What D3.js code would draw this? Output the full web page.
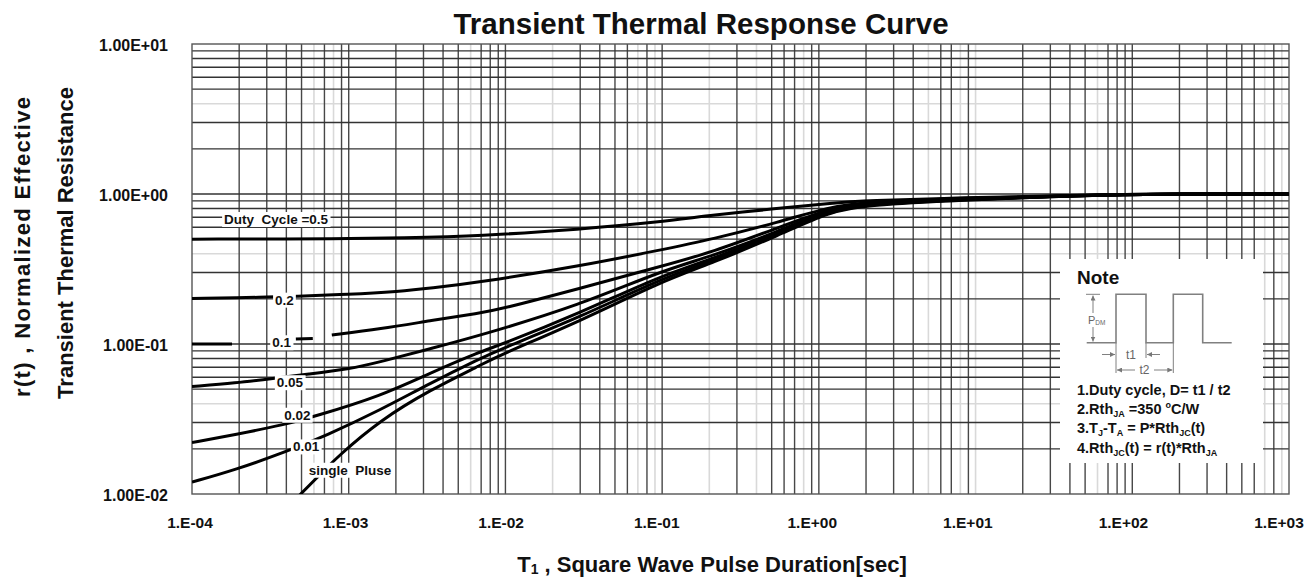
<!DOCTYPE html>
<html><head><meta charset="utf-8">
<script src="https://cdn.jsdelivr.net/npm/d3@7"></script>
<style>
body{margin:0;background:#fff;}
svg{display:block;font-family:"Liberation Sans",Arial,Helvetica,sans-serif;}
</style></head><body>
<svg id="chart" width="1314" height="577"></svg>
<script>
// ---------------- data ----------------
const chartTitle = "Transient Thermal Response Curve";
const xTickValues = [1e-4, 1e-3, 1e-2, 1e-1, 1, 10, 100, 1000];
const xTickLabels = ["1.E-04","1.E-03","1.E-02","1.E-01","1.E+00","1.E+01","1.E+02","1.E+03"];
const yTickValues = [0.01, 0.1, 1, 10];
const yTickLabels = ["1.00E-02","1.00E-01","1.00E+00","1.00E+01"];

// [pulse duration (s), r(t)] ; null marks a break in the printed curve
const duty05 = [[1e-4,0.5],[1e-3,0.503],[2.1e-3,0.51],[6.9e-3,0.525],[0.03,0.582],[0.097,0.65],[0.21,0.724],[0.56,0.803],[1.16,0.867],[2,0.905],[8.8,0.945],[30,0.97],[100,1],[1000,1]];
const duty02 = [[1e-4,0.201],[3e-4,0.205],[4.4e-4,0.208],[1e-3,0.214],[2.1e-3,0.224],[3.3e-3,0.235],[6.9e-3,0.258],[0.03,0.331],[0.097,0.423],[0.21,0.5],[0.56,0.65],[1.16,0.82],[2,0.885],[8.8,0.935],[30,0.968],[100,1],[1000,1]];
const duty01 = [[1e-4,0.1],[1.8e-4,0.1],null,[4.6e-4,0.108],[5.9e-4,0.109],null,[7.8e-4,0.115],[1.6e-3,0.126],[3.3e-3,0.143],[6.9e-3,0.161],[9.2e-3,0.17],[0.03,0.235],[0.097,0.328],[0.21,0.41],[0.56,0.6],[1.16,0.8],[2,0.875],[8.8,0.926],[30,0.965],[100,1],[1000,1]];
const duty005 = [[1e-4,0.052],[1.9e-4,0.055],[3.3e-4,0.059],[5.5e-4,0.063],[1e-3,0.068],[1.6e-3,0.076],[3.3e-3,0.093],[6.9e-3,0.114],[0.03,0.182],[0.097,0.306],[0.21,0.386],[0.56,0.567],[1.16,0.785],[2,0.865],[8.8,0.924],[30,0.965],[100,1],[1000,1]];
const duty002 = [[1e-4,0.022],[1.9e-4,0.0249],[3.9e-4,0.029],[6.1e-4,0.033],[1.6e-3,0.045],[3.3e-3,0.064],[6.9e-3,0.089],[9.2e-3,0.098],[0.03,0.161],[0.097,0.284],[0.21,0.369],[0.56,0.55],[1.16,0.775],[2,0.86],[8.8,0.92],[30,0.965],[100,1],[1000,1]];
const duty001 = [[1e-4,0.012],[1.9e-4,0.0145],[3.9e-4,0.019],[7.1e-4,0.0244],[1.6e-3,0.0364],[3.3e-3,0.0547],[6.9e-3,0.08],[9.2e-3,0.092],[0.03,0.151],[0.097,0.271],[0.21,0.358],[0.56,0.541],[1.16,0.77],[2,0.85],[8.8,0.92],[30,0.96],[100,1],[1000,1]];
const singlePulse = [[4.8e-4,0.0097],[6.2e-4,0.0127],[8.5e-4,0.0178],[1.6e-3,0.0312],[3.3e-3,0.0493],[6.9e-3,0.072],[9.2e-3,0.0844],[0.03,0.142],[0.097,0.259],[0.21,0.347],[0.56,0.533],[1.16,0.762],[2,0.845],[8.8,0.915],[30,0.96],[100,1],[1000,1]];

const curveSeries = [duty05, duty02, duty01, duty005, duty002, duty001, singlePulse];
const curveLabels = ["Duty\u00A0 Cycle =0.5", "0.2", "0.1", "0.05", "0.02", "0.01", "single\u00A0 Pluse"];

// grid lines printed lighter in the original sheet
const lightGridX = [6e-4, 8e-4, 6e-3, 2e-2, 7e-2, 9e-2, 2e-1, 4e-1, 8e-1, 5, 8, 10, 60, 700, 900];
const lightGridY = [0.04, 0.4, 4];

const noteLines = [
  [["1.Duty cycle, D= t1 / t2","n"]],
  [["2.Rth","n"],["JA","sub"],[" =350 ","n"],["o","sup"],["C/W","n"]],
  [["3.T","n"],["J","sub"],["-T","n"],["A","sub"],[" = P*Rth","n"],["JC","sub"],["(t)","n"]],
  [["4.Rth","n"],["JC","sub"],["(t) = r(t)*Rth","n"],["JA","sub"]]
];

// ---------------- layout ----------------
const svg = d3.select("#chart");
const plot = {left:192, top:44, right:1289, bottom:494};
const x = d3.scaleLog().domain([1e-4, 1e3]).range([plot.left, plot.right]);
const y = d3.scaleLog().domain([1e-2, 10]).range([plot.bottom, plot.top]);
const xLabelPos = d3.scaleLog().domain([1e-4, 1e3]).range([190, 1279]);
// label anchors (t, r) for curve labels
const labelAnchors = [[3.44e-4,0.676],[3.89e-4,0.196],[3.73e-4,0.1019],[4.22e-4,0.0552],[4.71e-4,0.0335],[5.34e-4,0.0206],[1.02e-3,0.0144]];

const isIn = (v, list) => list.some(l => Math.abs(Math.log10(v) - Math.log10(l)) < 1e-6);

// minor gridline values
const gx = [], gy = [];
for (let d = -4; d < 3; d++) for (let k = 1; k <= 9; k++) { const v = k * Math.pow(10, d); if (v > 1e-4*1.0001) gx.push(v); }
for (let d = -2; d < 1; d++) for (let k = 1; k <= 9; k++) { const v = k * Math.pow(10, d); if (v > 0.01*1.0001) gy.push(v); }

const grid = svg.append("g");
function drawGrid(light) {
  grid.selectAll(null).data(gx.filter(v => isIn(v, lightGridX) === light)).join("line")
    .attr("x1", d => x(d)).attr("x2", d => x(d)).attr("y1", plot.top).attr("y2", plot.bottom)
    .attr("stroke", light ? "#d9d9d9" : "#474747").attr("stroke-width", light ? 1.6 : 1.4);
  grid.selectAll(null).data(gy.filter(v => isIn(v, lightGridY) === light)).join("line")
    .attr("y1", d => y(d)).attr("y2", d => y(d)).attr("x1", plot.left).attr("x2", plot.right)
    .attr("stroke", light ? "#d9d9d9" : "#333").attr("stroke-width", light ? 1.6 : 1.4);
}
drawGrid(true);
drawGrid(false);

svg.append("rect").attr("x", plot.left).attr("y", plot.top)
  .attr("width", plot.right - plot.left).attr("height", plot.bottom - plot.top)
  .attr("fill", "none").attr("stroke", "#555").attr("stroke-width", 1.4);

svg.append("clipPath").attr("id", "clip").append("rect")
  .attr("x", plot.left).attr("y", plot.top).attr("width", plot.right - plot.left).attr("height", plot.bottom - plot.top);

const line = d3.line().defined(d => d !== null).x(d => x(d[0])).y(d => y(d[1])).curve(d3.curveBasis);
svg.append("g").attr("clip-path", "url(#clip)").selectAll("path").data(curveSeries).join("path")
  .attr("d", line).attr("fill", "none").attr("stroke", "#000").attr("stroke-width", 3);

// curve labels with white background
const lg = svg.append("g");
curveLabels.forEach((txt, i) => {
  const g = lg.append("g");
  const t = g.append("text").attr("x", x(labelAnchors[i][0])).attr("y", y(labelAnchors[i][1]))
    .attr("text-anchor", "middle").attr("dominant-baseline", "central")
    .attr("font-size", 13.5).attr("font-weight", "bold").attr("fill", "#111").text(txt);
  const b = t.node().getBBox();
  g.insert("rect", "text").attr("x", b.x - 2).attr("y", b.y).attr("width", b.width + 4).attr("height", b.height).attr("fill", "#fff");
});

// title
svg.append("text").attr("x", 701).attr("y", 34).attr("text-anchor", "middle")
  .attr("font-size", 29.5).attr("font-weight", "bold").attr("fill", "#111").text(chartTitle);

// x tick labels
svg.append("g").selectAll("text").data(xTickValues).join("text")
  .attr("x", d => xLabelPos(d)).attr("y", 522).attr("text-anchor", "middle").attr("dominant-baseline", "central")
  .attr("font-size", 15.5).attr("font-weight", "bold").attr("fill", "#111")
  .text((d, i) => xTickLabels[i]);

// y tick labels
svg.append("g").selectAll("text").data(yTickValues).join("text")
  .attr("x", 168).attr("y", d => y(d) + 1).attr("text-anchor", "end").attr("dominant-baseline", "central")
  .attr("font-size", 16).attr("font-weight", "bold").attr("fill", "#111")
  .text((d, i) => yTickLabels[i]);

// axis titles
const xt = svg.append("text").attr("x", 712).attr("y", 572).attr("text-anchor", "middle")
  .attr("font-size", 22).attr("font-weight", "bold").attr("fill", "#111");
xt.append("tspan").text("T");
xt.append("tspan").attr("font-size", 14).attr("dy", 2).text("1");
xt.append("tspan").attr("dy", -2).text(" , Square Wave Pulse Duration[sec]");

svg.append("text").attr("transform", "translate(30,247) rotate(-90)").attr("text-anchor", "middle")
  .attr("font-size", 22).attr("font-weight", "bold").attr("fill", "#111")
  .attr("textLength", 300).attr("lengthAdjust", "spacing").text("r(t) , Normalized Effective");
svg.append("text").attr("transform", "translate(73,243) rotate(-90)").attr("text-anchor", "middle")
  .attr("font-size", 22).attr("font-weight", "bold").attr("fill", "#111").text("Transient Thermal Resistance");

// ---------------- note box ----------------
const nb = {x:1060, y:259, w:203, h:204};
const note = svg.append("g");
note.append("rect").attr("x", nb.x).attr("y", nb.y).attr("width", nb.w).attr("height", nb.h).attr("fill", "#fff");
note.append("text").attr("x", nb.x + 17).attr("y", nb.y + 25).attr("font-size", 19).attr("font-weight", "bold").attr("fill", "#111").text("Note");

const defs = svg.append("defs");
defs.append("marker").attr("id", "arr").attr("viewBox", "0 0 10 10").attr("refX", 10).attr("refY", 5)
  .attr("markerWidth", 5).attr("markerHeight", 5).attr("orient", "auto-start-reverse")
  .append("path").attr("d", "M0,0 L10,5 L0,10 z").attr("fill", "#777");

const gray = "#808080";
const px = v => nb.x + v, py = v => nb.y + v;
note.append("path").attr("d",
  `M${px(26.7)},${py(83.7)} H${px(56)} V${py(35.3)} H${px(86)} V${py(83.7)} H${px(113.3)} V${py(35.3)} H${px(142.7)} V${py(83.7)} H${px(171.7)}`)
  .attr("fill", "none").attr("stroke", gray).attr("stroke-width", 1.6);
// P_DM dimension
note.append("line").attr("x1", px(26)).attr("x2", px(40)).attr("y1", py(35.3)).attr("y2", py(35.3)).attr("stroke", gray).attr("stroke-width", 1);
note.append("line").attr("x1", px(33)).attr("x2", px(33)).attr("y1", py(54)).attr("y2", py(36.5)).attr("stroke", gray).attr("stroke-width", 1).attr("marker-end", "url(#arr)");
note.append("line").attr("x1", px(33)).attr("x2", px(33)).attr("y1", py(68)).attr("y2", py(82.5)).attr("stroke", gray).attr("stroke-width", 1).attr("marker-end", "url(#arr)");
const pdm = note.append("text").attr("x", px(28)).attr("y", py(65)).attr("font-size", 11).attr("fill", "#666");
pdm.append("tspan").text("P");
pdm.append("tspan").attr("font-size", 6.5).attr("dy", 1).text("DM");
// extension lines
[56, 113.3].forEach(v => note.append("line").attr("x1", px(v)).attr("x2", px(v)).attr("y1", py(83.7)).attr("y2", py(114)).attr("stroke", gray).attr("stroke-width", 1));
note.append("line").attr("x1", px(86)).attr("x2", px(86)).attr("y1", py(83.7)).attr("y2", py(99)).attr("stroke", gray).attr("stroke-width", 1);
// t1
note.append("line").attr("x1", px(42)).attr("x2", px(55)).attr("y1", py(95.5)).attr("y2", py(95.5)).attr("stroke", gray).attr("stroke-width", 1).attr("marker-end", "url(#arr)");
note.append("line").attr("x1", px(100)).attr("x2", px(87)).attr("y1", py(95.5)).attr("y2", py(95.5)).attr("stroke", gray).attr("stroke-width", 1).attr("marker-end", "url(#arr)");
note.append("text").attr("x", px(71)).attr("y", py(95.5)).attr("text-anchor", "middle").attr("dominant-baseline", "central").attr("font-size", 12).attr("fill", "#666").text("t1");
// t2
note.append("line").attr("x1", px(57)).attr("x2", px(75)).attr("y1", py(111)).attr("y2", py(111)).attr("stroke", gray).attr("stroke-width", 1).attr("marker-start", "url(#arr)");
note.append("line").attr("x1", px(94)).attr("x2", px(112.3)).attr("y1", py(111)).attr("y2", py(111)).attr("stroke", gray).attr("stroke-width", 1).attr("marker-end", "url(#arr)");
note.append("text").attr("x", px(84.5)).attr("y", py(111)).attr("text-anchor", "middle").attr("dominant-baseline", "central").attr("font-size", 12).attr("fill", "#666").text("t2");

// note text lines
noteLines.forEach((parts, i) => {
  const t = note.append("text").attr("x", px(17)).attr("y", py(136 + i * 19.2))
    .attr("font-size", 14.5).attr("font-weight", "bold").attr("fill", "#111");
  let shift = 0;
  parts.forEach(([s, kind]) => {
    const target = kind === "sub" ? 3 : kind === "sup" ? -6 : 0;
    const ts = t.append("tspan").attr("dy", target - shift).text(s);
    if (kind !== "n") ts.attr("font-size", 9);
    shift = target;
  });
});
</script>
</body></html>
